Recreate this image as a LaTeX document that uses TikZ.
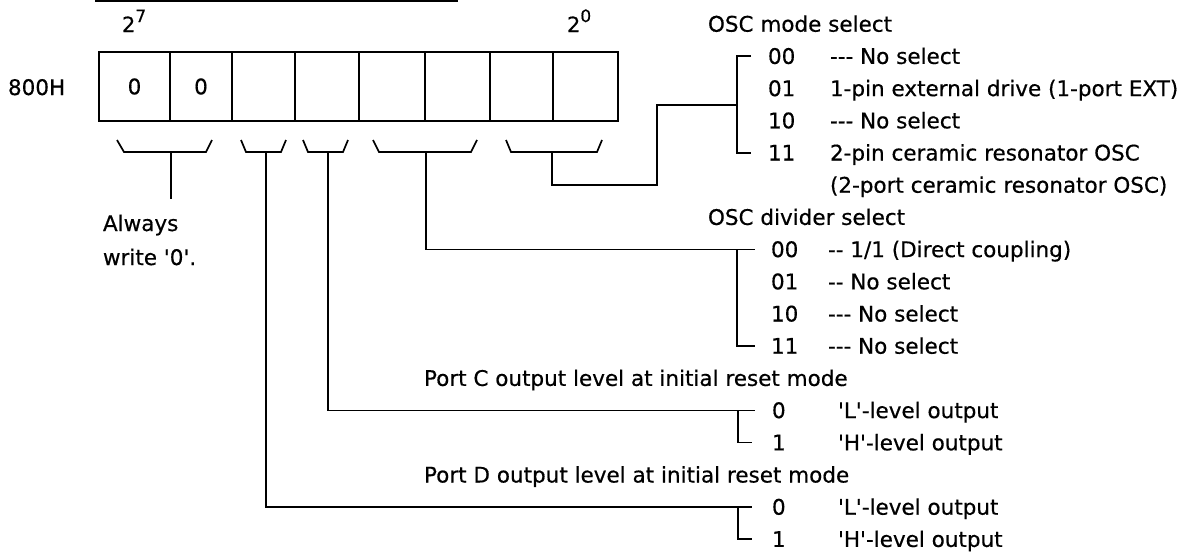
\documentclass[tikz,border=0pt]{standalone}
\usepackage{fontspec}
\setmainfont{DejaVu Sans}
\newfontfamily\heavy[FakeBold=0.5]{DejaVu Sans}
\newcommand{\bitw}[1]{{\fontsize{21}{21}\selectfont 2}\raisebox{10pt}{\fontsize{17}{17}\selectfont #1}}
\begin{document}
\begin{tikzpicture}[x=1pt,y=-1pt,
  every node/.style={font=\heavy\fontsize{21.5}{25}\selectfont, inner sep=0pt, outer sep=0pt},
  cellbox/.style={draw, line width=1.8pt, minimum height=69pt},
  wire/.style={line width=1.7pt},
  txt/.style={anchor=base west}]
\useasboundingbox (0,0) rectangle (1194,557);

% cut-off title underline
\draw[line width=2pt] (95,1) -- (458,1);

% bit weights and address
\node[txt] (w7) at (122,32) {\bitw{7}};
\node[txt] (w0) at (567,32) {\bitw{0}};
\node[txt] (addr) at (8,95) {800H};

% register cells
\node[cellbox, minimum width=71pt] (b7) at (134.5,86.5) {0};
\node[cellbox, minimum width=62pt] (b6) at (201,86.5) {0};
\node[cellbox, minimum width=63pt] (b5) at (263.5,86.5) {};
\node[cellbox, minimum width=64pt] (b4) at (327,86.5) {};
\node[cellbox, minimum width=66pt] (b3) at (392,86.5) {};
\node[cellbox, minimum width=65pt] (b2) at (457.5,86.5) {};
\node[cellbox, minimum width=63pt] (b1) at (521.5,86.5) {};
\node[cellbox, minimum width=65pt] (b0) at (585.5,86.5) {};

% braces
\draw[wire] (117,140) -- (124,152) -- (206,152) -- (212,140);
\draw[wire] (241,140) -- (246,152) -- (281,152) -- (286,140);
\draw[wire] (303,140) -- (308,152) -- (343,152) -- (348,140);
\draw[wire] (373,140) -- (379,152) -- (471,152) -- (477,140);
\draw[wire] (506,140) -- (511,152) -- (597,152) -- (602,140);
\coordinate (s76) at (171,152);
\coordinate (s5) at (266,152);
\coordinate (s4) at (328,152);
\coordinate (s32) at (426,152);
\coordinate (s10) at (552,152);

% Always write 0
\coordinate (a76) at (171,199);
\draw[wire] (s76) -- (a76);
\node[txt] (alw1) at (103,231) {Always};
\node[txt] (alw2) at (103,265) {write '0'.};

% OSC mode select
\node[txt] (mt) at (708,31.7) {OSC mode select};
\node[txt] (m00) at (768,63.9) {00};
\node[txt] (m01) at (768,96.1) {01};
\node[txt] (m10) at (768,128.3) {10};
\node[txt] (m11) at (768,160.5) {11};
\node[txt] (m00d) at (830,63.9) {-{}-{}- No select};
\node[txt] (m01d) at (830,96.1) {1-pin external drive (1-port EXT)};
\node[txt] (m10d) at (830,128.3) {-{}-{}- No select};
\node[txt] (m11d) at (830,160.5) {2-pin ceramic resonator OSC};
\node[txt] (m11e) at (830,192.7) {(2-port ceramic resonator OSC)};
\coordinate (mtop) at (751,56.2);
\coordinate (mbot) at (751,152.8);
\coordinate (mbar) at (737,105);
\draw[wire] (mtop) -- (737,56.2) -- (737,152.8) -- (mbot);
\draw[wire] (s10) -- (552,185) -- (657,185) -- (657,105) -- (mbar);

% OSC divider select
\node[txt] (dt) at (708,224.9) {OSC divider select};
\node[txt] (d00) at (771,257.1) {00};
\node[txt] (d01) at (771,289.3) {01};
\node[txt] (d10) at (771,321.5) {10};
\node[txt] (d11) at (771,353.7) {11};
\node[txt] (d00d) at (828,257.1) {-{}- 1/1 (Direct coupling)};
\node[txt] (d01d) at (828,289.3) {-{}- No select};
\node[txt] (d10d) at (828,321.5) {-{}-{}- No select};
\node[txt] (d11d) at (828,353.7) {-{}-{}- No select};
\coordinate (dtop) at (755,249.4);
\coordinate (dbot) at (755,346);
\draw[wire] (s32) -- (426,249.4) -- (dtop);
\draw[wire] (737,249.4) -- (737,346) -- (dbot);

% Port C
\node[txt] (ct) at (424,385.9) {Port C output level at initial reset mode};
\node[txt] (c0) at (772,418.1) {0};
\node[txt] (c1) at (772,450.3) {1};
\node[txt] (c0d) at (838,418.1) {'L'-level output};
\node[txt] (c1d) at (838,450.3) {'H'-level output};
\coordinate (ctop) at (755,410.4);
\coordinate (cbot) at (752,442.6);
\draw[wire] (s4) -- (328,410.4) -- (ctop);
\draw[wire] (738,410.4) -- (738,442.6) -- (cbot);

% Port D
\node[txt] (pt) at (424,482.5) {Port D output level at initial reset mode};
\node[txt] (p0) at (772,514.7) {0};
\node[txt] (p1) at (772,546.9) {1};
\node[txt] (p0d) at (838,514.7) {'L'-level output};
\node[txt] (p1d) at (838,546.9) {'H'-level output};
\coordinate (ptop) at (752,507);
\coordinate (pbot) at (752,539.2);
\draw[wire] (s5) -- (266,507) -- (ptop);
\draw[wire] (738,507) -- (738,539.2) -- (pbot);
\end{tikzpicture}
\end{document}
